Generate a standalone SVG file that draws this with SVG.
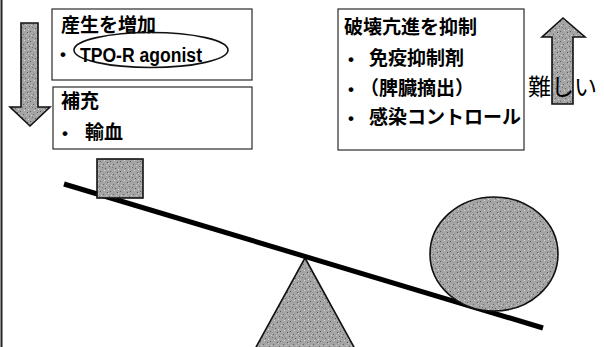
<svg xmlns="http://www.w3.org/2000/svg" width="604" height="347" viewBox="0 0 604 347">
  <style>
    .box { fill: #ffffff; stroke: #2a2a2a; stroke-width: 1.2; }
    .jp { font-family: "Noto Sans CJK JP", "Noto Sans", sans-serif; font-size: 19px; font-weight: bold; fill: #000; }
    .en { font-family: "Liberation Sans", "Noto Sans", sans-serif; font-size: 17px; font-weight: bold; fill: #000; }
    .shade { fill: url(#grain); stroke: #111; stroke-width: 1.6; }
  </style>
  <defs>
    <!-- speckled grey fill -->
    <pattern id="grain" width="10" height="10" patternUnits="userSpaceOnUse">
      <rect width="10" height="10" fill="#a4a4a4"/>
      <rect x="0" y="1" width="1" height="1" fill="#5a5a5a"/>
      <rect x="3" y="4" width="1" height="1" fill="#666"/>
      <rect x="7" y="2" width="1" height="1" fill="#555"/>
      <rect x="5" y="8" width="1" height="1" fill="#5e5e5e"/>
      <rect x="9" y="6" width="1" height="1" fill="#6a6a6a"/>
      <rect x="2" y="7" width="1" height="1" fill="#707070"/>
      <rect x="4" y="0" width="1" height="1" fill="#d8d8d8"/>
      <rect x="8" y="9" width="1" height="1" fill="#dcdcdc"/>
      <rect x="1" y="5" width="1" height="1" fill="#d0d0d0"/>
      <rect x="6" y="5" width="1" height="1" fill="#c8c8c8"/>
      <rect x="8" y="3" width="1" height="1" fill="#c4c4c4"/>
    </pattern>
  </defs>

  <rect width="604" height="347" fill="#ffffff"/>
  <!-- left frame edge -->
  <line x1="1.5" y1="0" x2="1.5" y2="347" stroke="#222" stroke-width="2"/>

  <!-- downward arrow -->
  <g id="arrow-down">
    <path class="shade" d="M21,23 H38 V107 H50 L30,126 L10,107 H21 Z"/>
  </g>

  <!-- upward arrow -->
  <g id="arrow-up">
    <path class="shade" d="M552,104 V37 H542 L563,18 L585,37 H573 V104 Z"/>
  </g>

  <g id="box-production">
    <rect class="box" x="52" y="9" width="200" height="71"/>
    <text class="jp" x="61" y="32">産生を増加</text>
    <text class="en" x="60" y="60">•</text>
    <ellipse cx="151" cy="50" rx="77" ry="17.5" fill="none" stroke="#111" stroke-width="1.6"/>
    <text class="en" x="80" y="62" style="font-size:19.5px" textLength="122" lengthAdjust="spacingAndGlyphs">TPO-R agonist</text>
  </g>

  <g id="box-supply">
    <rect class="box" x="53" y="87" width="199" height="62"/>
    <text class="jp" x="61" y="108">補充</text>
    <text class="en" x="62" y="139">•</text>
    <text class="jp" x="85" y="139">輸血</text>
  </g>

  <g id="box-suppress">
    <rect class="box" x="338" y="9" width="186" height="141"/>
    <text class="jp" x="344" y="34">破壊亢進を抑制</text>
    <text class="en" x="348" y="65">•</text>
    <text class="jp" x="369" y="65">免疫抑制剤</text>
    <text class="en" x="348" y="95">•</text>
    <text class="jp" x="360" y="95">（脾臓摘出）</text>
    <text class="en" x="348" y="124">•</text>
    <text class="jp" x="369" y="124">感染コントロール</text>
  </g>

  <g id="label-difficult">
    <text class="jp" x="528" y="95" style="font-size:23px;font-weight:normal">難しい</text>
  </g>

  <!-- seesaw -->
  <g id="fulcrum">
    <polygon class="shade" points="305,258 255,349 355,349"/>
  </g>
  <g id="beam">
    <line x1="64" y1="184" x2="543" y2="328" stroke="#000" stroke-width="5"/>
  </g>
  <g id="weight-small">
    <rect class="shade" x="97" y="159" width="46" height="39"/>
  </g>
  <g id="weight-large">
    <ellipse class="shade" cx="494" cy="254" rx="64" ry="57"/>
  </g>
</svg>
